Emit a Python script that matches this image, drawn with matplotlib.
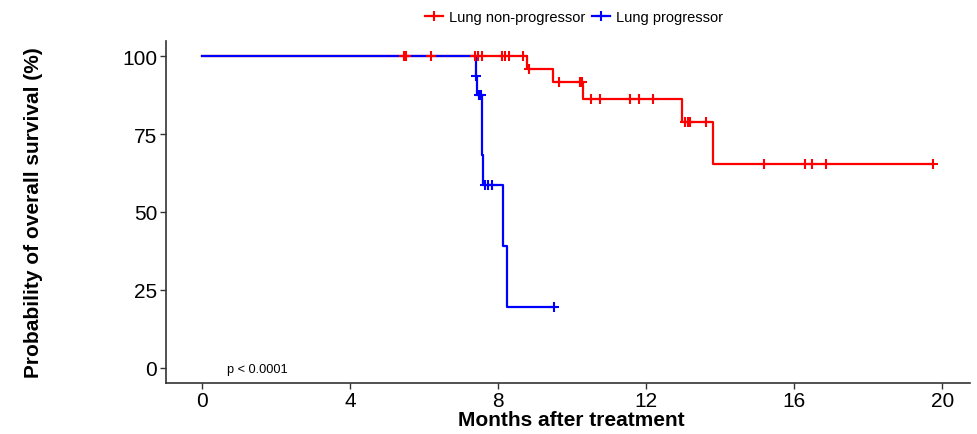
import numpy as np
import matplotlib

matplotlib.use("Agg")
import matplotlib.pyplot as plt
from matplotlib.lines import Line2D

plt.rcParams["font.family"] = ["Liberation Sans", "DejaVu Sans"]

# Kaplan-Meier step curves (months, survival %)
nonprog_times = [0.0, 8.77, 9.49, 10.28, 12.96, 13.81, 19.76]
nonprog_surv = [100.0, 96.0, 91.7, 86.4, 78.9, 65.5, 65.5]
nonprog_censor = [5.44, 5.50, 6.17, 7.37, 7.46, 7.55, 8.09, 8.18, 8.30, 8.68,
                  8.84, 9.64, 10.21, 10.26, 10.50, 10.76, 11.56, 11.80, 12.19,
                  13.06, 13.12, 13.17, 13.61, 15.19, 16.29, 16.47, 16.86, 19.76]

prog_times = [0.0, 7.40, 7.42, 7.55, 7.59, 8.12, 8.23, 9.51]
prog_surv = [100.0, 93.8, 87.5, 68.4, 58.5, 39.0, 19.5, 19.5]
prog_censor = [7.40, 7.47, 7.52, 7.63, 7.73, 7.83, 9.51]

groups = ["Lung non-progressor", "Lung progressor"]
colors = ["#FF0000", "#0000FF"]
p_text = "p < 0.0001"
x_ticks = [0, 4, 8, 12, 16, 20]
y_ticks = [0, 25, 50, 75, 100]


def surv_at(times, surv, t):
    idx = np.searchsorted(times, t, side="right") - 1
    return np.asarray(surv)[idx]


fig = plt.figure(figsize=(9.78, 4.35), dpi=100)
ax = fig.add_axes([0.1694, 0.117, 0.8224, 0.787])

curves = [(nonprog_times, nonprog_surv, nonprog_censor),
          (prog_times, prog_surv, prog_censor)]
for (t, s, _), c in zip(curves, colors):
    ax.step(t, s, where="post", color=c, lw=1.6, zorder=2)
for (t, s, cens), c in zip(curves, colors):
    ax.plot(cens, surv_at(t, s, cens), ls="none", marker="+", color=c,
            ms=7, mew=1.5, zorder=3)

ax.text(0.66, -0.5, p_text, fontsize=9.2, ha="left", va="center")

ax.set_xlim(-0.99, 20.75)
ax.set_ylim(-5, 105)
ax.set_xticks(x_ticks)
ax.set_yticks(y_ticks)
ax.tick_params(labelsize=15, length=4, width=1, color="#333333", pad=2)
for side in ["top", "right"]:
    ax.spines[side].set_visible(False)
for side in ["left", "bottom"]:
    ax.spines[side].set_color("#333333")
    ax.spines[side].set_linewidth(1.2)

ax.set_xlabel("Months after treatment", fontsize=15, fontweight="bold")
ax.set_ylabel("Probability of overall survival (%)", fontsize=15,
              fontweight="bold")
ax.xaxis.set_label_coords(0.504, -0.078)
ax.yaxis.set_label_coords(-0.153, 0.5)

handles = [Line2D([0], [0], color=c, lw=1.6, marker="+", ms=7, mew=1.5)
           for c in colors]
fig.legend(handles, groups, loc="upper center", bbox_to_anchor=(0.587, 1.004),
           ncol=2, frameon=False, fontsize=10.5, handlelength=1.2,
           handletextpad=0.4, columnspacing=0.5)

fig.savefig("out.png", dpi=100)
